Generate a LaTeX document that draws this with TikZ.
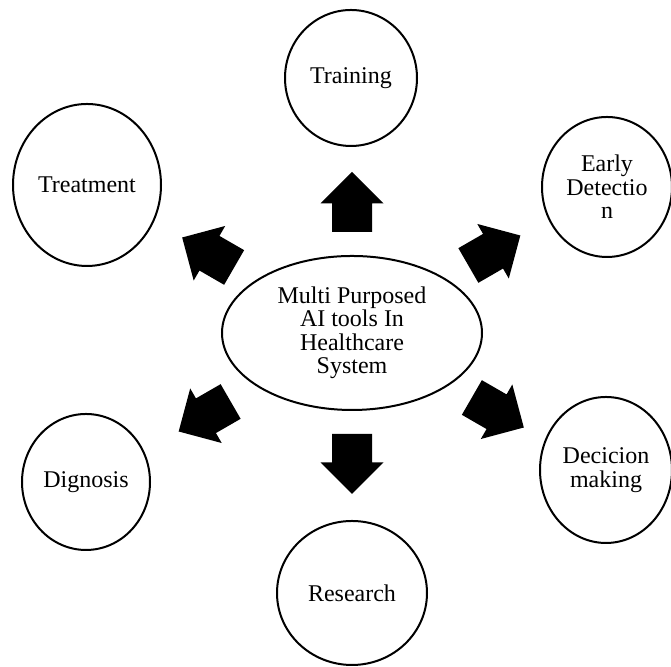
\documentclass[tikz,border=0pt]{standalone}
\usepackage{fontspec}
\setmainfont{Liberation Serif}
\usetikzlibrary{shapes.geometric,shapes.arrows}

\begin{document}
\begin{tikzpicture}[x=0.5pt, y=0.5pt, line width=1pt,
  every node/.style={font=\fontsize{12}{11.75}\selectfont, align=center, inner sep=0pt},
  bubble/.style={draw, ellipse},
  blockarrow/.style={single arrow, fill=black, anchor=tail, inner xsep=0pt, inner ysep=9.5pt,
    minimum height=30pt, single arrow head extend=5.75pt}]

\useasboundingbox (0,0) rectangle (671,667);

% Mitte
\node[bubble, minimum width=130pt, minimum height=77pt] (hub) at (352,334)
  {Multi Purposed\\AI tools In\\Healthcare\\System};

% Anwendungen rundherum
\node[bubble, minimum width=66pt, minimum height=68pt] (training)  at (351,589) {Training};
\node[bubble, minimum width=74pt, minimum height=81pt] (treatment) at (87,482)  {Treatment};
\node[bubble, minimum width=65pt, minimum height=70pt] (early)     at (607,480) {Early\\Detectio\\n};
\node[bubble, minimum width=64pt, minimum height=68pt] (dignosis)  at (86,185)  {Dignosis};
\node[bubble, minimum width=66pt, minimum height=73pt] (decision)  at (606,197) {Decicion\\making};
\node[bubble, minimum width=75pt, minimum height=72pt] (research)  at (352,74)  {Research};

% Blockpfeile
\node[blockarrow, rotate=90]  (arTraining)  at (352,434)   {};
\node[blockarrow, rotate=30]  (arEarly)     at (467.5,401) {};
\node[blockarrow, rotate=-30] (arDecision)  at (471,270)   {};
\node[blockarrow, rotate=-90] (arResearch)  at (352,234)   {};
\node[blockarrow, rotate=210] (arDignosis)  at (231.5,266) {};
\node[blockarrow, rotate=150] (arTreatment) at (235,399)   {};

\end{tikzpicture}
\end{document}
